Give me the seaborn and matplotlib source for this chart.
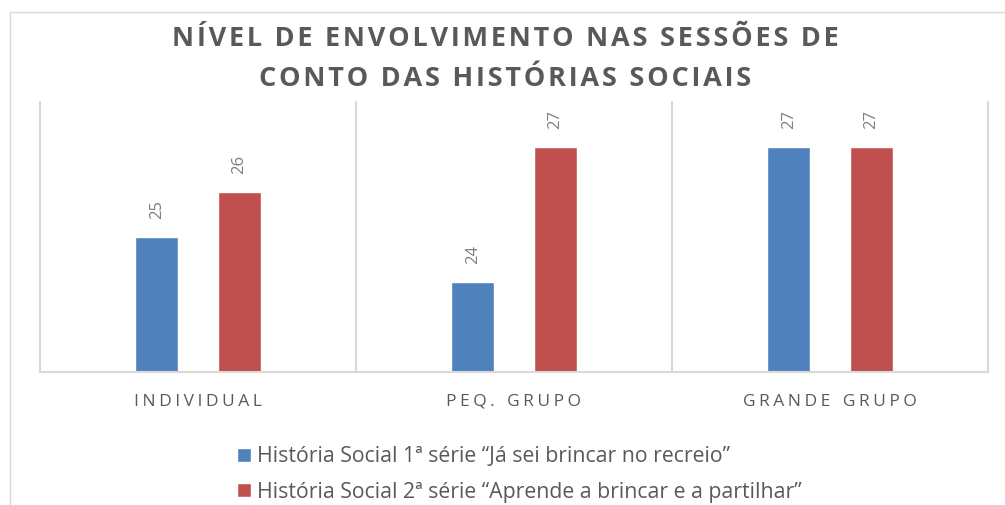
import matplotlib
matplotlib.use("Agg")
import matplotlib.pyplot as plt
from matplotlib.patches import Rectangle
import pandas as pd
import seaborn as sns

# Data
categories = ["INDIVIDUAL", "PEQ. GRUPO", "GRANDE GRUPO"]
series_names = [
    "História Social 1ª série “Já sei brincar no recreio”",
    "História Social 2ª série “Aprende a brincar e a partilhar”",
]
serie1 = [25, 24, 27]
serie2 = [26, 27, 27]
title_lines = ["NÍVEL DE ENVOLVIMENTO NAS SESSÕES DE", "CONTO DAS HISTÓRIAS SOCIAIS"]
colors = ["#4F81BD", "#C0504D"]

df = pd.DataFrame({
    "categoria": categories * 2,
    "serie": [series_names[0]] * len(serie1) + [series_names[1]] * len(serie2),
    "valor": serie1 + serie2,
})

sns.set_theme(style="white")
plt.rcParams["font.family"] = ["Open Sans", "DejaVu Sans"]

W, H = 1005, 505
fig = plt.figure(figsize=(W / 100, H / 100), dpi=100)
fig.patch.set_facecolor("white")

# chart frame (open on right/bottom edges of the canvas)
fig.patches.append(Rectangle((9.5 / W, -0.1), 1.2, (H - 12) / H + 0.1,
                             transform=fig.transFigure, fill=False,
                             ec="#d9d9d9", lw=1.0))

ax = fig.add_axes([40 / W, 133 / H, 948 / W, 270 / H])
sns.barplot(data=df, x="categoria", y="valor", hue="serie", palette=colors,
            width=0.52, gap=0.477, saturation=1, errorbar=None, ax=ax)

ax.set_ylim(22, 28)
ax.set_xlim(-0.5, 2.5)
for s in ax.spines.values():
    s.set_visible(False)
for xv in [-0.5, 0.5, 1.5, 2.5]:
    ax.axvline(xv, color="#d9d9d9", lw=1.5, clip_on=False, zorder=0)
ax.axhline(22, color="#d9d9d9", lw=1.5, clip_on=False, zorder=3)

for cont in ax.containers:
    ax.bar_label(cont, labels=[f"{v:.0f}" for v in cont.datavalues],
                 rotation=90, padding=13, color="#7f7f7f", fontsize=12)


def spaced(text, sep=" ", word_sep="   "):
    return word_sep.join(sep.join(w) for w in text.split(" "))


hs = "\u200a"
ax.set_xticks(range(len(categories)))
ax.set_xticklabels([spaced(c, sep=hs + hs, word_sep=hs + "  " + hs) for c in categories],
                   color="#595959", fontsize=12.5)
ax.tick_params(axis="x", length=0, pad=15.5)
ax.set_yticks([])
ax.set_xlabel("")
ax.set_ylabel("")

# title, letter spaced with hair spaces
for line, yb in zip(title_lines, [46.5, 85.5]):
    fig.text(505 / W, 1 - yb / H, spaced(line, sep=hs, word_sep=hs + " " + hs),
             ha="center", va="baseline", fontsize=19.5, fontweight="bold",
             color="#595959")

sns.move_legend(ax, loc="center left", bbox_to_anchor=(237 / W, 1 - 474.5 / H),
                bbox_transform=fig.transFigure, frameon=False, title=None,
                ncol=1, fontsize=15.3, handlelength=0.66, handleheight=0.66,
                handletextpad=0.28, labelspacing=0.66, borderpad=0, borderaxespad=0)
for t in ax.get_legend().get_texts():
    t.set_color("#595959")

fig.savefig("out.png", dpi=100)
